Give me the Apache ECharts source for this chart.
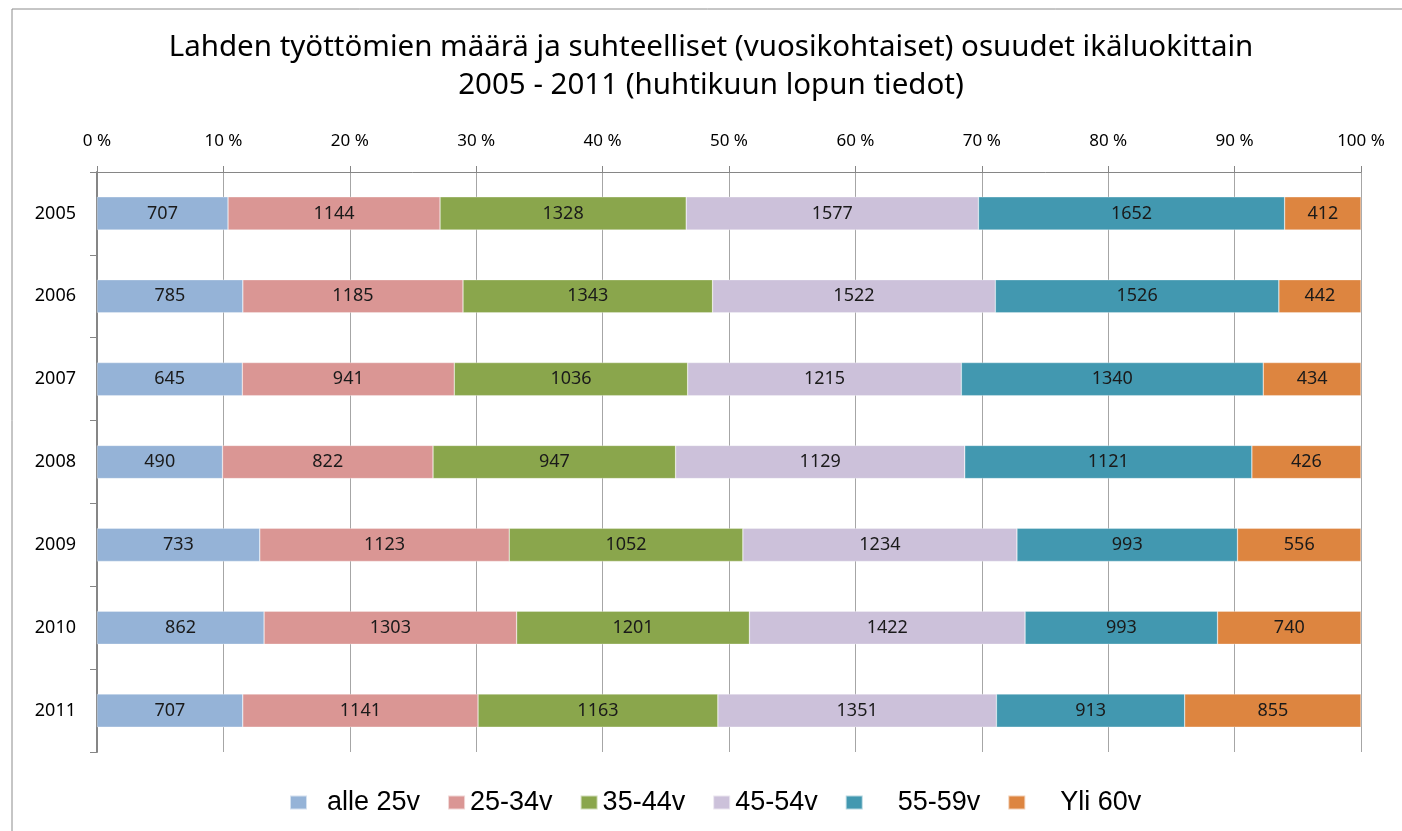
<!DOCTYPE html>
<html>
<head>
<meta charset="utf-8">
<script src="https://cdn.jsdelivr.net/npm/echarts@6/dist/echarts.min.js"></script>
<style>
  html, body { margin: 0; padding: 0; background: #fff; }
  #chart { width: 1402px; height: 831px; }
</style>
</head>
<body>
<div id="chart"></div>
<script>
// vuodet ja ikäluokat
var years = ['2005', '2006', '2007', '2008', '2009', '2010', '2011'];
var groups = ['alle 25v', '25-34v', '35-44v', '45-54v', '55-59v', 'Yli 60v'];
var xTicks = [0, 10, 20, 30, 40, 50, 60, 70, 80, 90, 100];

// työttömien määrät (luvut palkeista)
var alle25 = [707, 785, 645, 490, 733, 862, 707];
var v25_34 = [1144, 1185, 941, 822, 1123, 1303, 1141];
var v35_44 = [1328, 1343, 1036, 947, 1052, 1201, 1163];
var v45_54 = [1577, 1522, 1215, 1129, 1234, 1422, 1351];
var v55_59 = [1652, 1526, 1340, 1121, 993, 993, 913];
var yli60 = [412, 442, 434, 426, 556, 740, 855];

var colors = ['#95B3D7', '#DA9694', '#8AA64C', '#CCC1DA', '#4298B0', '#DD8540'];
var allData = [alle25, v25_34, v35_44, v45_54, v55_59, yli60];

// vuosikohtaiset summat -> osuudet prosentteina
var totals = years.map(function (y, i) {
  var s = 0;
  allData.forEach(function (arr) { s += arr[i]; });
  return s;
});

// legendan välilyönnit kuten alkuperäisessä
var legendNames = ['  alle 25v', '25-34v', '35-44v', '45-54v', '    55-59v', '    Yli 60v'];

var series = allData.map(function (arr, k) {
  return {
    name: legendNames[k],
    type: 'bar',
    stack: 'total',
    barWidth: '40%',
    itemStyle: { color: colors[k], borderColor: 'rgba(255,255,255,0.6)', borderWidth: 0.5 },
    label: {
      show: true,
      position: 'inside',
      color: '#1a1a1a',
      fontFamily: 'Noto Sans',
      fontSize: 18,
      formatter: function (p) { return p.data.raw; }
    },
    data: arr.map(function (v, i) {
      return { value: v / totals[i] * 100, raw: v };
    })
  };
});

var chart = echarts.init(document.getElementById('chart'));
chart.setOption({
  animation: false,
  title: {
    text: 'Lahden työttömien määrä ja suhteelliset (vuosikohtaiset) osuudet ikäluokittain\n2005 - 2011 (huhtikuun lopun tiedot)',
    left: 706,
    textAlign: 'center',
    top: 24,
    textStyle: {
      fontFamily: 'Noto Sans',
      fontWeight: 'normal',
      fontSize: 29.5,
      lineHeight: 38,
      color: '#000'
    }
  },
  graphic: [{
    type: 'rect',
    shape: { x: 12, y: 9, width: 1400, height: 900 },
    style: { fill: 'none', stroke: '#8c8c8c', lineWidth: 1 }
  }],
  legend: {
    top: 784,
    left: 284,
    itemWidth: 17,
    itemHeight: 14,
    itemGap: 27,
    icon: 'rect',
    textStyle: { fontFamily: 'Liberation Sans', fontSize: 27, color: '#000' },
    data: legendNames
  },
  grid: { left: 97, right: 41, top: 172, bottom: 79 },
  xAxis: {
    type: 'value',
    position: 'top',
    min: 0,
    max: 100,
    interval: 10,
    axisLine: { show: true, lineStyle: { color: '#868686' } },
    axisTick: { show: true, length: 6, lineStyle: { color: '#868686' } },
    axisLabel: {
      margin: 22,
      fontFamily: 'Noto Sans',
      fontSize: 17,
      color: '#000',
      formatter: function (v) { return xTicks.indexOf(v) >= 0 ? v + ' %' : ''; }
    },
    splitLine: { show: true, lineStyle: { color: '#a6a6a6', width: 1 } }
  },
  yAxis: {
    type: 'category',
    inverse: true,
    data: years,
    axisLine: { show: true, lineStyle: { color: '#868686', width: 2 } },
    axisTick: { show: true, length: 7, lineStyle: { color: '#868686' } },
    axisLabel: { margin: 21, fontFamily: 'Noto Sans', fontSize: 18, color: '#000' }
  },
  series: series
});
</script>
</body>
</html>
